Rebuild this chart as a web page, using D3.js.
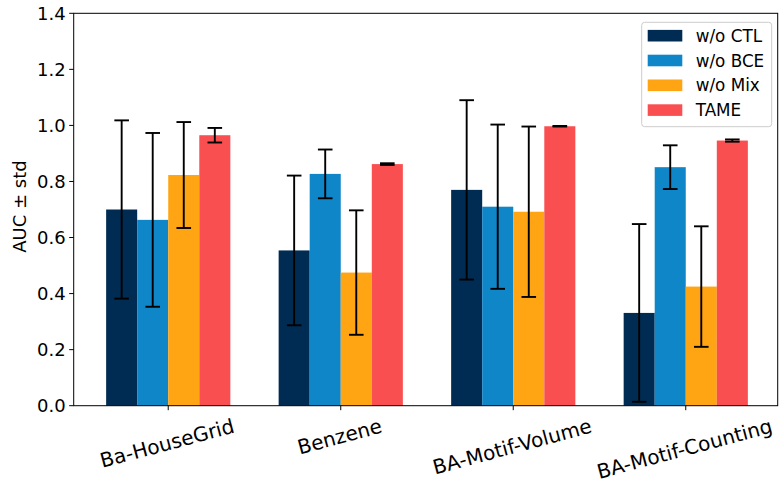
<html>
<head>
    <title>AUC ablation bars</title>
    <script type="text/javascript" src="https://d3js.org/d3.v7.min.js"></script>
    <style>
        body {
            margin: 0;
            background: white;
        }

        svg text {
            font-family: "DejaVu Sans", sans-serif;
            fill: black;
        }
    </style>
</head>
<body>
<div id="chart"></div>

<script>
    var datasets = ["Ba-HouseGrid", "Benzene", "BA-Motif-Volume", "BA-Motif-Counting"];
    var variants = ["w/o CTL", "w/o BCE", "w/o Mix", "TAME"];
    var colors = ["#002c53", "#0f86c8", "#ffa412", "#fa4f50"];

    // mean AUC per variant, one value per dataset
    var ctlMean = [0.700, 0.554, 0.770, 0.331];
    var bceMean = [0.663, 0.827, 0.710, 0.851];
    var mixMean = [0.823, 0.475, 0.692, 0.425];
    var tameMean = [0.965, 0.862, 0.997, 0.946];

    // std per variant
    var ctlStd = [0.318, 0.267, 0.320, 0.317];
    var bceStd = [0.310, 0.087, 0.293, 0.078];
    var mixStd = [0.189, 0.222, 0.304, 0.215];
    var tameStd = [0.026, 0.003, 0.001, 0.004];

    var yTicks = [0.0, 0.2, 0.4, 0.6, 0.8, 1.0, 1.2, 1.4];

    var means = [ctlMean, bceMean, mixMean, tameMean];
    var stds = [ctlStd, bceStd, mixStd, tameStd];

    var width = 780, height = 481;
    var plot = {left: 73.7, right: 777.7, top: 13.3, bottom: 405.7};
    var barWidth = 0.18;

    var svg = d3.select("#chart")
        .append("svg")
        .attr("width", width)
        .attr("height", height);

    var x = d3.scaleLinear()
        .domain([-0.548, 3.533])
        .range([plot.left, plot.right]);

    var y = d3.scaleLinear()
        .domain([0, 1.4])
        .range([plot.bottom, plot.top]);

    // flatten into one record per bar
    var bars = [];
    variants.forEach(function (v, vi) {
        datasets.forEach(function (ds, di) {
            bars.push({
                variant: vi,
                dataset: di,
                mean: means[vi][di],
                std: stds[vi][di],
                pos: di + (vi - 1.5) * barWidth
            });
        });
    });

    // Bars
    svg.append("g")
        .selectAll("rect")
        .data(bars)
        .join("rect")
        .attr("x", function (d) {
            return x(d.pos - barWidth / 2);
        })
        .attr("width", function (d) {
            return x(barWidth) - x(0);
        })
        .attr("y", function (d) {
            return y(d.mean);
        })
        .attr("height", function (d) {
            return y(0) - y(d.mean);
        })
        .style("fill", function (d) {
            return colors[d.variant];
        });

    // Error bars
    var capHalf = 7.3;
    var err = svg.append("g")
        .attr("stroke", "black")
        .attr("stroke-width", 1.9)
        .selectAll("g")
        .data(bars)
        .join("g");

    err.append("line")
        .attr("x1", function (d) { return x(d.pos); })
        .attr("x2", function (d) { return x(d.pos); })
        .attr("y1", function (d) { return y(d.mean - d.std); })
        .attr("y2", function (d) { return y(d.mean + d.std); });

    err.append("line")
        .attr("x1", function (d) { return x(d.pos) - capHalf; })
        .attr("x2", function (d) { return x(d.pos) + capHalf; })
        .attr("y1", function (d) { return y(d.mean + d.std); })
        .attr("y2", function (d) { return y(d.mean + d.std); });

    err.append("line")
        .attr("x1", function (d) { return x(d.pos) - capHalf; })
        .attr("x2", function (d) { return x(d.pos) + capHalf; })
        .attr("y1", function (d) { return y(d.mean - d.std); })
        .attr("y2", function (d) { return y(d.mean - d.std); });

    // Frame
    svg.append("rect")
        .attr("x", plot.left)
        .attr("y", plot.top)
        .attr("width", plot.right - plot.left)
        .attr("height", plot.bottom - plot.top)
        .style("fill", "none")
        .style("stroke", "black")
        .style("stroke-width", 1);

    // Y axis ticks
    var yAxis = svg.append("g");
    yAxis.selectAll("line")
        .data(yTicks)
        .join("line")
        .attr("x1", plot.left - 4.5)
        .attr("x2", plot.left)
        .attr("y1", function (d) { return y(d); })
        .attr("y2", function (d) { return y(d); })
        .style("stroke", "black");

    yAxis.selectAll("text")
        .data(yTicks)
        .join("text")
        .attr("font-size", 18)
        .attr("x", plot.left - 8)
        .attr("y", function (d) { return y(d); })
        .attr("dy", "0.36em")
        .attr("text-anchor", "end")
        .text(function (d) { return d.toFixed(1); });

    svg.append("text")
        .attr("font-size", 18)
        .attr("transform", "translate(26," + ((plot.top + plot.bottom) / 2 - 3) + ") rotate(-90)")
        .attr("text-anchor", "middle")
        .text("AUC \u00b1 std");

    // X axis ticks
    var xAxis = svg.append("g");
    xAxis.selectAll("line")
        .data(datasets)
        .join("line")
        .attr("x1", function (d, i) { return x(i); })
        .attr("x2", function (d, i) { return x(i); })
        .attr("y1", plot.bottom)
        .attr("y2", plot.bottom + 4.5)
        .style("stroke", "black");

    var angle = 15 * Math.PI / 180;
    xAxis.selectAll("text")
        .data(datasets)
        .join("text")
        .attr("font-size", 20)
        .attr("text-anchor", "middle")
        .attr("dy", "0.32em")
        .text(function (d) { return d; })
        .attr("transform", function (d, i) {
            var len = this.getComputedTextLength();
            var cy = 413 + len * Math.sin(angle) / 2 + 13;
            return "translate(" + (x(i) - 1) + "," + cy + ") rotate(-15)";
        });

    // Legend
    var legend = svg.append("g");
    legend.append("rect")
        .attr("x", 641.7)
        .attr("y", 22.3)
        .attr("width", 130)
        .attr("height", 104.4)
        .attr("rx", 3)
        .style("fill", "white")
        .style("fill-opacity", 0.8)
        .style("stroke", "#cccccc");

    var items = legend.selectAll("g.item")
        .data(variants)
        .join("g")
        .attr("class", "item")
        .attr("transform", function (d, i) {
            return "translate(0," + (35.7 + i * 24.8) + ")";
        });

    items.append("rect")
        .attr("x", 647.7)
        .attr("y", -5.8)
        .attr("width", 34.6)
        .attr("height", 11.6)
        .style("fill", function (d, i) { return colors[i]; });

    items.append("text")
        .attr("font-size", 16.8)
        .attr("x", 695.7)
        .attr("dy", "0.36em")
        .text(function (d) { return d; });
</script>
</body>
</html>
